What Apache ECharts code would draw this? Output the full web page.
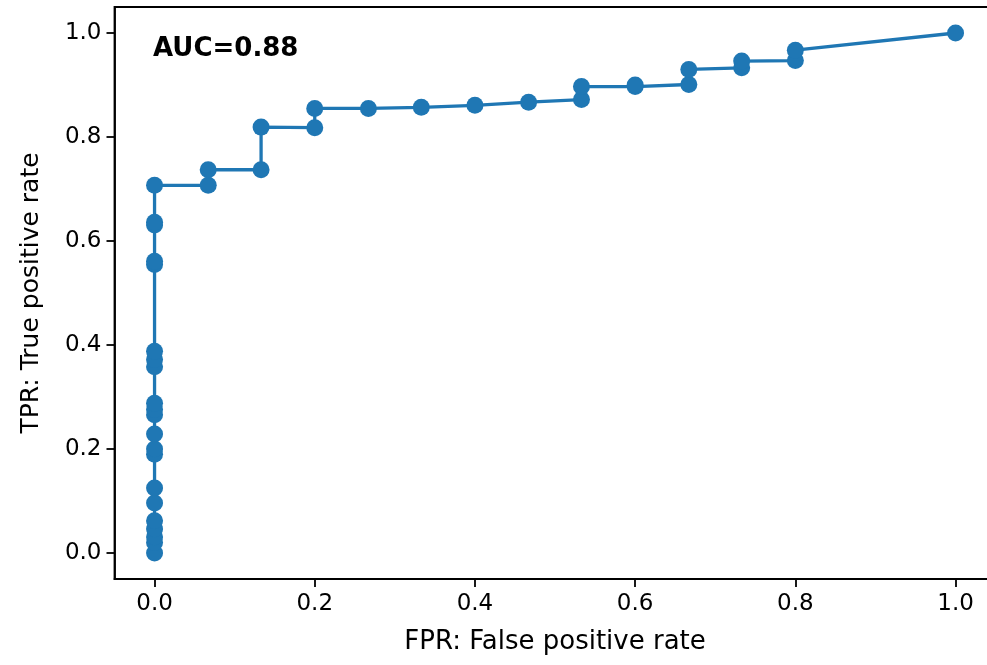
<!DOCTYPE html>
<html>
<head>
<meta charset="utf-8">
<script src="https://cdn.jsdelivr.net/npm/echarts@6/dist/echarts.min.js"></script>
<style>
  html, body { margin: 0; padding: 0; background: #fff; }
  #rocChart { width: 987px; height: 665px; }
</style>
</head>
<body>
<div id="rocChart"></div>
<script>
  // ROC curve points
  var fprValues = [
    0, 0, 0, 0, 0, 0, 0, 0, 0, 0, 0, 0, 0, 0, 0, 0, 0, 0, 0, 0, 0,
    0.067, 0.067, 0.133, 0.133, 0.2, 0.2, 0.267, 0.333, 0.4, 0.467,
    0.533, 0.533, 0.6, 0.6, 0.667, 0.667, 0.733, 0.733, 0.8, 0.8, 1.0
  ];
  var tprValues = [
    0, 0.02, 0.031, 0.046, 0.062, 0.096, 0.125, 0.19, 0.2, 0.229, 0.266,
    0.276, 0.288, 0.358, 0.372, 0.388, 0.555, 0.561, 0.631, 0.636, 0.707,
    0.707, 0.737, 0.737, 0.819, 0.818, 0.855, 0.855, 0.857, 0.861, 0.867,
    0.872, 0.897, 0.897, 0.900, 0.901, 0.930, 0.933, 0.946, 0.947, 0.967, 1.0
  ];
  var tickValues = [0, 0.2, 0.4, 0.6, 0.8, 1.0];
  var aucText = 'AUC=0.88';

  var points = [];
  for (var i = 0; i < fprValues.length; i++) {
    points.push([fprValues[i], tprValues[i]]);
  }

  var fontFamily = 'DejaVu Sans';
  var fmt = function (v) { return v.toFixed(1); };

  var myChart = echarts.init(document.getElementById('rocChart'), null, {renderer: 'canvas'});
  var option = {
    animation: false,
    backgroundColor: '#fff',
    grid: {
      left: 114.5,
      right: -8.6,
      top: 7,
      bottom: 86,
      show: true,
      borderColor: '#000',
      borderWidth: 1.8,
      containLabel: false,
      outerBoundsMode: 'none'
    },
    xAxis: {
      type: 'value',
      min: -0.05,
      max: 1.05,
      name: 'FPR: False positive rate',
      nameLocation: 'middle',
      nameGap: 50,
      nameTextStyle: {color: '#000', fontSize: 26, fontFamily: fontFamily},
      axisLine: {show: true, onZero: false, lineStyle: {color: '#000', width: 1.8}},
      axisTick: {show: true, length: 8, customValues: tickValues, lineStyle: {color: '#000', width: 1.8}},
      axisLabel: {customValues: tickValues, formatter: fmt, margin: 14, color: '#000', fontSize: 23, fontFamily: fontFamily},
      splitLine: {show: false}
    },
    yAxis: {
      type: 'value',
      min: -0.05,
      max: 1.05,
      name: 'TPR: True positive rate',
      nameLocation: 'middle',
      nameRotate: 90,
      nameGap: 71,
      nameTextStyle: {color: '#000', fontSize: 25, fontFamily: fontFamily},
      axisLine: {show: true, onZero: false, lineStyle: {color: '#000', width: 1.8}},
      axisTick: {show: true, length: 8, customValues: tickValues, lineStyle: {color: '#000', width: 1.8}},
      axisLabel: {customValues: tickValues, formatter: fmt, margin: 13, color: '#000', fontSize: 23, fontFamily: fontFamily},
      splitLine: {show: false}
    },
    graphic: [{
      type: 'text',
      left: 153,
      top: 36,
      style: {
        text: aucText,
        fill: '#000',
        font: 'bold 26px "DejaVu Sans"'
      }
    }],
    series: [{
      type: 'line',
      data: points,
      symbol: 'circle',
      symbolSize: 17,
      showAllSymbol: true,
      lineStyle: {color: '#1f77b4', width: 3.3},
      itemStyle: {color: '#1f77b4', borderWidth: 0}
    }]
  };
  myChart.setOption(option);
</script>
</body>
</html>
